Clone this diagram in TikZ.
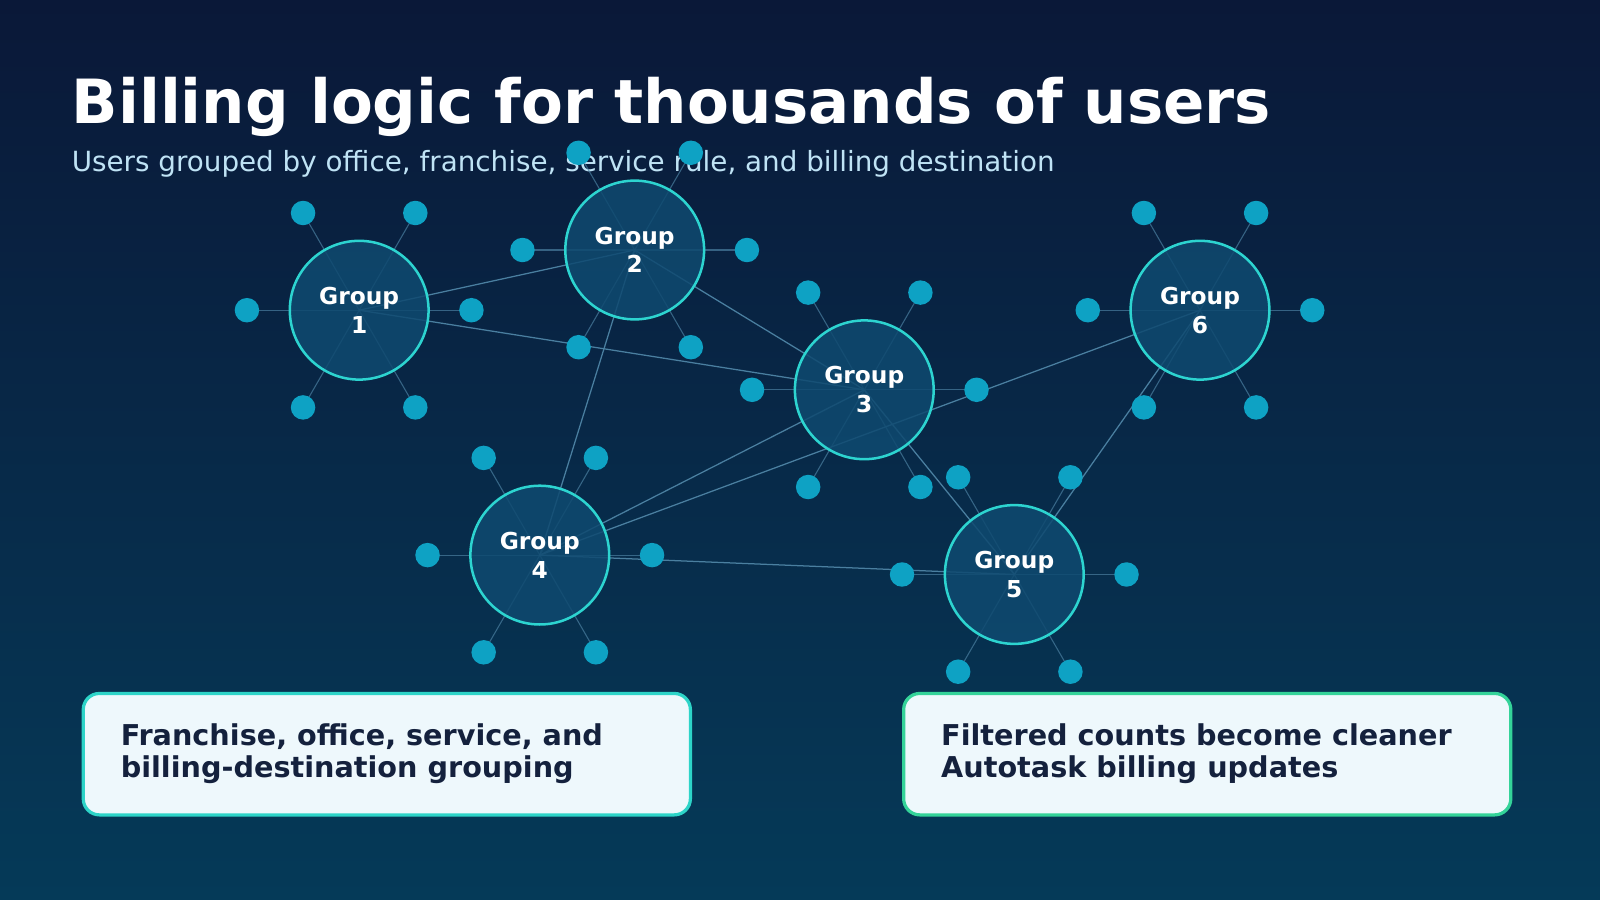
\documentclass[tikz,border=0pt]{standalone}
\usepackage{fontspec}
\setmainfont{DejaVu Sans}
\definecolor{bgtop}{HTML}{0A1838}
\definecolor{bgbot}{HTML}{053A58}
\definecolor{gfill}{HTML}{0F4A70}
\definecolor{gring}{HTML}{2DD4D0}
\definecolor{sat}{HTML}{0EA2C4}
\definecolor{edge}{HTML}{4A7FA0}
\definecolor{sub}{HTML}{BFE3F5}
\definecolor{boxfill}{HTML}{EEF8FC}
\definecolor{boxa}{HTML}{2DD4C8}
\definecolor{boxb}{HTML}{34D399}
\definecolor{ink}{HTML}{14213D}
\tikzset{
  grp/.style={circle,minimum size=136*0.02cm,inner sep=0pt,draw=gring,line width=1.4pt,fill=gfill,fill opacity=0.85,text opacity=1,text=white,font=\fontsize{13}{16}\selectfont\bfseries,align=center},
  satn/.style={circle,fill=sat,minimum size=24*0.02cm,inner sep=0pt},
  spoke/.style={draw=edge,line width=0.6pt,opacity=0.7},
  link/.style={draw=edge,line width=0.7pt},
  infobox/.style={rounded corners=9pt,fill=boxfill,line width=1.8pt,minimum width=595*0.02cm,minimum height=119*0.02cm,anchor=north west},
  boxtext/.style={anchor=north west,align=left,text=ink,font=\fontsize{16}{17.5}\selectfont\bfseries,inner sep=0pt}
}
\begin{document}
\begin{tikzpicture}[x=0.02cm,y=-0.02cm]
\shade[top color=bgtop,bottom color=bgbot] (0,0) rectangle (1568,882);
\useasboundingbox (0,0) rectangle (1568,882);
\node[anchor=base west,text=white,font=\fontsize{34}{40}\selectfont\bfseries,inner sep=0pt] (title) at (70,121) {Billing logic for thousands of users};
\node[anchor=base west,text=sub,font=\fontsize{15.5}{18}\selectfont,inner sep=0pt] (subtitle) at (70,168) {Users grouped by office, franchise, service rule, and billing destination};
% centres and satellites
\foreach \n/\x/\y in {1/352/304,2/622/245,3/847/382,4/529/544,5/994/563,6/1176/304}{
  \coordinate (c\n) at (\x,\y);
  \foreach \a in {0,60,...,300}{
    \coordinate (s\n-\a) at ([shift={(\a:110)}]c\n);
    \draw[spoke] (c\n) -- (s\n-\a);
  }
}
% links
\foreach \u/\v in {1/2,1/3,2/3,2/4,3/4,4/6,3/5,4/5,5/6}{
  \draw[link] (c\u) -- (c\v);
}
% groups
\foreach \n in {1,...,6}{
  \node[grp] (g\n) at (c\n) {Group\\\n};
}
\foreach \n in {1,...,6}{
  \foreach \a in {0,60,...,300}{
    \node[satn] (p\n-\a) at (s\n-\a) {};
  }
}
% boxes
\node[infobox,draw=boxa] (boxL) at (80,678) {};
\node[infobox,draw=boxb] (boxR) at (884,678) {};
\node[boxtext] (tL) at (118,709) {Franchise, office, service, and\\billing-destination grouping};
\node[boxtext] (tR) at (922,709) {Filtered counts become cleaner\\Autotask billing updates};
\end{tikzpicture}
\end{document}
